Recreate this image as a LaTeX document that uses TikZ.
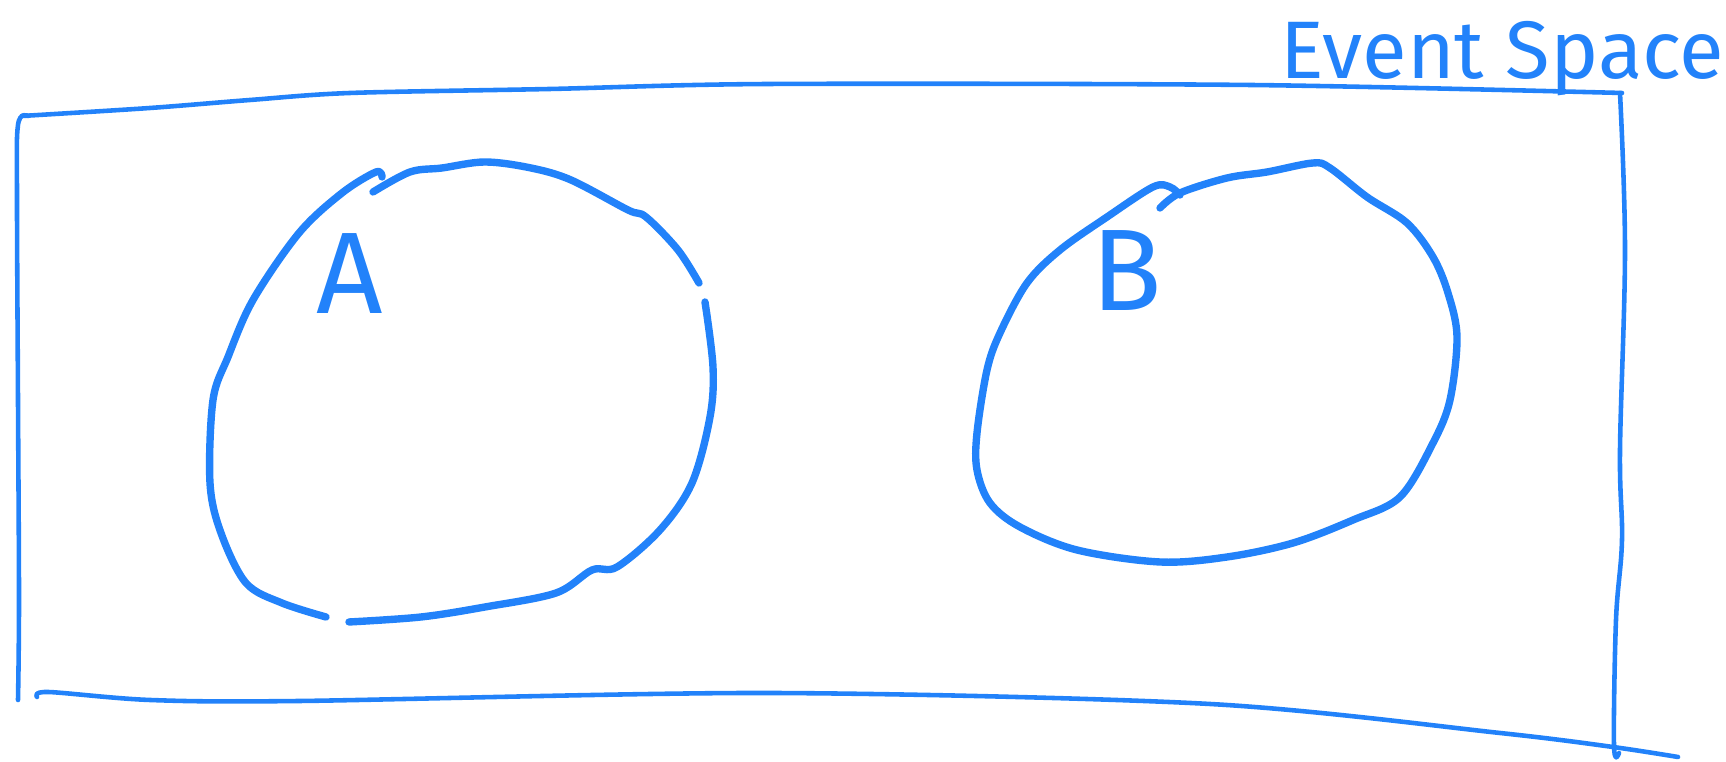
\documentclass[tikz,border=0pt]{standalone}
\usepackage{fontspec}
\setmainfont{Fira Sans}
\usepackage{tikz}
\definecolor{trazo}{HTML}{2282FA}
\tikzset{
  borde/.style={draw=trazo, line width=1.3pt, line cap=round, line join=round},
  conjunto/.style={draw=trazo, line width=2.1pt, line cap=round, line join=round},
  letra/.style={text=trazo, inner sep=0pt, font=\fontsize{33}{33}\selectfont},
  rotulo/.style={text=trazo, inner sep=0pt, anchor=base west, font=\fontsize{23.2}{23.2}\selectfont}
}
\begin{document}
\begin{tikzpicture}[x=0.01cm, y=-0.01cm]
  \useasboundingbox (0,0) rectangle (1726,762);
  % espacio muestral
  \draw [borde] plot[smooth, tension=0.6] coordinates {(18,700) (19,600) (18,400) (17,200) (18,125) (28,116)};
  \draw [borde] plot[smooth, tension=0.5] coordinates {(22,116) (150,108) (250,100) (350,93) (550,89) (770,84) (1250,85) (1622,93)};
  \draw [borde] plot[smooth, tension=0.6] coordinates {(1620,93) (1625,250) (1620,450) (1622,540) (1616,620) (1614,745) (1619,753)};
  \draw [borde] plot[smooth, tension=0.5] coordinates {(37,697) (48,692) (150,700) (300,701) (770,693) (1210,704) (1500,733) (1613,747) (1678,757)};
  \node (titulo) [rotulo] at (1280,79) {Event Space};
  % conjunto A
  \draw [conjunto] plot[smooth, tension=0.55] coordinates {(373,192) (410,172) (442,168) (485,162) (531,168) (571,180) (628,210) (646,217) (678,250) (699,283)};
  \draw [conjunto] plot[smooth, tension=0.55] coordinates {(705,302) (713,367) (710,417) (692,483) (660,530) (617,567) (592,570) (556,593) (485,607) (421,617) (349,622)};
  \draw [conjunto] plot[smooth, tension=0.55] coordinates {(326,617) (282,603) (246,583) (221,533) (210,483) (213,400) (228,357) (253,300) (299,233) (342,193) (376,172) (382,177)};
  \node (letraA) [letra] at (350,274) {A};
  % conjunto B
  \draw [conjunto] plot[smooth, tension=0.55] coordinates {(1160,208) (1180,193) (1227,178) (1267,172) (1313,163) (1330,168) (1367,197) (1407,223) (1433,257) (1448,293) (1457,337) (1450,400) (1433,443) (1400,497) (1353,520) (1293,543) (1227,557) (1160,562) (1077,550) (1020,527) (990,503) (977,470) (977,433) (987,370) (1000,333) (1027,283) (1060,250) (1107,217) (1153,187) (1170,187) (1180,195)};
  \node (letraB) [letra] at (1127,271) {B};
\end{tikzpicture}
\end{document}
